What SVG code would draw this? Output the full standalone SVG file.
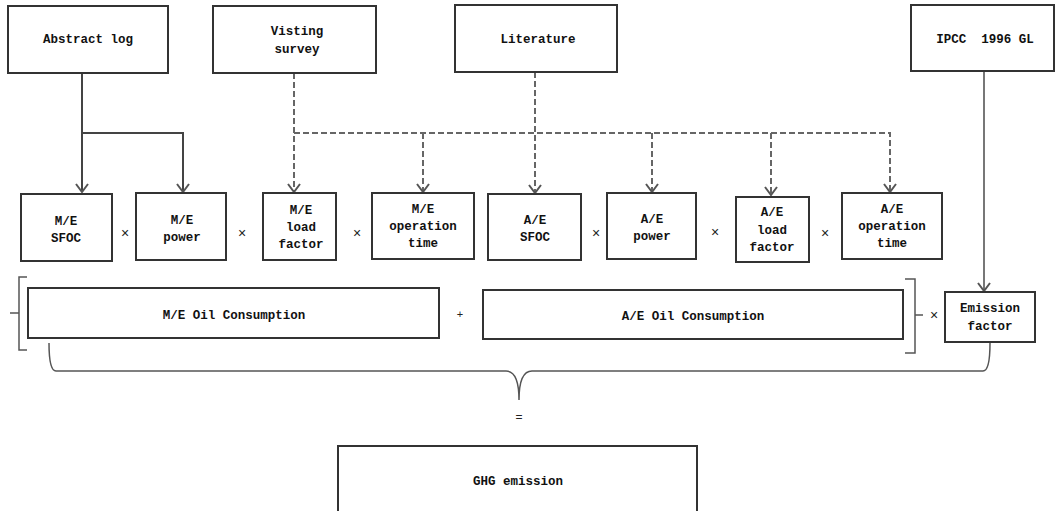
<svg xmlns="http://www.w3.org/2000/svg" width="1056" height="511" viewBox="0 0 1056 511">
<defs>
<marker id="arr" viewBox="0 0 10 14" refX="9" refY="7" markerWidth="10" markerHeight="14" markerUnits="userSpaceOnUse" orient="auto">
<path d="M1,1 L9,7 L1,13" fill="none" stroke="#555" stroke-width="2"/>
</marker>
</defs>
<style>
.box{fill:#fff;stroke:#333;stroke-width:2}
.t{font-family:"Liberation Mono",monospace;font-size:12.5px;font-weight:bold;fill:#111;text-anchor:middle;dominant-baseline:central}
.op{font-family:"Liberation Sans",sans-serif;font-size:14px;fill:#222;text-anchor:middle;dominant-baseline:central}
.solid{fill:none;stroke:#444;stroke-width:2}
.dash{fill:none;stroke:#666;stroke-width:2;stroke-dasharray:6 3}
.gray{fill:none;stroke:#777;stroke-width:2}
.brace{fill:none;stroke:#555;stroke-width:1.5}
</style>
<g id="connectors">
<path class="solid" d="M82,73 V192" marker-end="url(#arr)"/>
<path class="solid" d="M82,133 H183 V192" marker-end="url(#arr)"/>
<path class="dash" d="M294,73 V192" marker-end="url(#arr)"/>
<path class="dash" d="M294,133 H890 V192" marker-end="url(#arr)"/>
<path class="dash" d="M423,133 V192" marker-end="url(#arr)"/>
<path class="dash" d="M652,133 V192" marker-end="url(#arr)"/>
<path class="dash" d="M771,133 V195" marker-end="url(#arr)"/>
<path class="dash" d="M535,72 V193" marker-end="url(#arr)"/>
<path class="gray" d="M984,71 V291" marker-end="url(#arr)"/>
</g>
<g id="abstract-log"><rect class="box" x="8" y="6" width="160" height="67"/><text class="t" x="88" y="40">Abstract log</text></g>
<g id="visting-survey"><rect class="box" x="213" y="6" width="163" height="67"/><text class="t" x="297" y="32">Visting</text><text class="t" x="297" y="50">survey</text></g>
<g id="literature"><rect class="box" x="455" y="5" width="162" height="67"/><text class="t" x="538" y="40">Literature</text></g>
<g id="ipcc"><rect class="box" x="911" y="5" width="143" height="66"/><text class="t" x="985" y="40" xml:space="preserve">IPCC  1996 GL</text></g>

<g id="me-sfoc"><rect class="box" x="21" y="194" width="91" height="67"/><text class="t" x="66" y="222">M/E</text><text class="t" x="66" y="239">SFOC</text></g>
<text class="op" x="125" y="233">×</text>
<g id="me-power"><rect class="box" x="136" y="193" width="90" height="67"/><text class="t" x="182" y="221">M/E</text><text class="t" x="182" y="238">power</text></g>
<text class="op" x="242" y="233">×</text>
<g id="me-load"><rect class="box" x="263" y="193" width="73" height="67"/><text class="t" x="301" y="211">M/E</text><text class="t" x="301" y="228">load</text><text class="t" x="301" y="245">factor</text></g>
<text class="op" x="357" y="233">×</text>
<g id="me-op"><rect class="box" x="372" y="193" width="102" height="66"/><text class="t" x="423" y="210">M/E</text><text class="t" x="423" y="227">operation</text><text class="t" x="423" y="244">time</text></g>
<g id="ae-sfoc"><rect class="box" x="488" y="194" width="93" height="66"/><text class="t" x="535" y="221">A/E</text><text class="t" x="535" y="238">SFOC</text></g>
<text class="op" x="596" y="233">×</text>
<g id="ae-power"><rect class="box" x="607" y="193" width="89" height="66"/><text class="t" x="652" y="220">A/E</text><text class="t" x="652" y="237">power</text></g>
<text class="op" x="715" y="232">×</text>
<g id="ae-load"><rect class="box" x="736" y="197" width="73" height="65"/><text class="t" x="772" y="213">A/E</text><text class="t" x="772" y="231">load</text><text class="t" x="772" y="248">factor</text></g>
<text class="op" x="825" y="233">×</text>
<g id="ae-op"><rect class="box" x="842" y="193" width="100" height="66"/><text class="t" x="892" y="210">A/E</text><text class="t" x="892" y="227">operation</text><text class="t" x="892" y="244">time</text></g>

<g id="me-oil"><rect class="box" x="28" y="288" width="411" height="50"/><text class="t" x="234" y="316">M/E Oil Consumption</text></g>
<text class="op" x="460" y="314" style="font-size:11px">+</text>
<g id="ae-oil"><rect class="box" x="483" y="290" width="420" height="49"/><text class="t" x="693" y="317">A/E Oil Consumption</text></g>
<g id="emission-factor"><rect class="box" x="945" y="292" width="90" height="50"/><text class="t" x="990" y="309">Emission</text><text class="t" x="990" y="327">factor</text></g>

<g id="braces">
<path class="brace" d="M27,277 H19 V313 H10 M19,313 V350 H27"/>
<path class="brace" d="M905,279 H915 V315 H923 M915,315 V353 H905"/>
<path class="brace" d="M49,343 Q49,371 56,371 L506,371 Q519,371 519,400 Q519,371 532,371 L983,371 Q990,371 990,343"/>
</g>
<text class="op" x="934" y="315">×</text>
<text class="op" x="519" y="417" style="font-size:12px">=</text>
<g id="ghg"><rect class="box" x="338" y="446" width="359" height="70"/><text class="t" x="518" y="482">GHG emission</text></g>
</svg>
